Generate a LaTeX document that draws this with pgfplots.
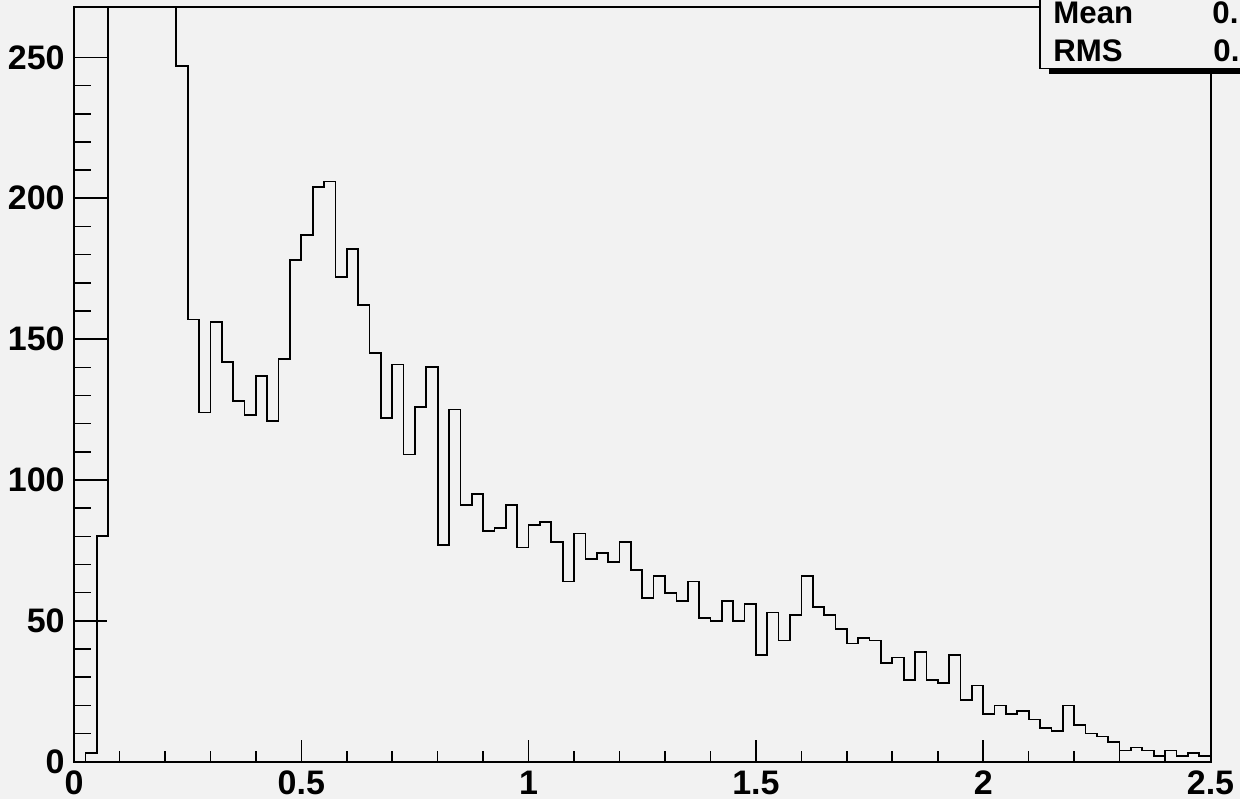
\documentclass[border=0pt]{standalone}
\usepackage{pgfplots}
\pgfplotsset{compat=1.18}
\usepackage{fontspec}
\setmainfont{Liberation Sans}
\definecolor{bg}{HTML}{F2F2F2}
\pgfplotstableread{
x y
0.000 0
0.025 3
0.050 80
0.075 420
0.100 600
0.125 700
0.150 650
0.175 520
0.200 380
0.225 247
0.250 157
0.275 124
0.300 156
0.325 142
0.350 128
0.375 123
0.400 137
0.425 121
0.450 143
0.475 178
0.500 187
0.525 204
0.550 206
0.575 172
0.600 182
0.625 162
0.650 145
0.675 122
0.700 141
0.725 109
0.750 126
0.775 140
0.800 77
0.825 125
0.850 91
0.875 95
0.900 82
0.925 83
0.950 91
0.975 76
1.000 84
1.025 85
1.050 78
1.075 64
1.100 81
1.125 72
1.150 74
1.175 71
1.200 78
1.225 68
1.250 58
1.275 66
1.300 60
1.325 57
1.350 64
1.375 51
1.400 50
1.425 57
1.450 50
1.475 56
1.500 38
1.525 53
1.550 43
1.575 52
1.600 66
1.625 55
1.650 52
1.675 47
1.700 42
1.725 44
1.750 43
1.775 35
1.800 37
1.825 29
1.850 39
1.875 29
1.900 28
1.925 38
1.950 22
1.975 27
2.000 17
2.025 20
2.050 17
2.075 18
2.100 15
2.125 12
2.150 11
2.175 20
2.200 13
2.225 10
2.250 9
2.275 7
2.300 4
2.325 5
2.350 4
2.375 2
2.400 4
2.425 2
2.450 3
2.475 2
2.500 2
}\histdata
\begin{document}
\begin{tikzpicture}
\useasboundingbox (-37pt,-18.65pt) rectangle (583pt,380.85pt);
\fill[bg] (-37pt,-18.65pt) rectangle (583pt,380.85pt);
\begin{scope}
\clip (-37pt,-18.65pt) rectangle (583pt,380.85pt);
\begin{axis}[
  scale only axis, width=568.25pt, height=377.5pt,
  at={(0pt,0pt)}, anchor=south west,
  xmin=0, xmax=2.5, ymin=0, ymax=268,
  axis line style={line width=1pt, black},
  xtick={0,0.5,1,1.5,2,2.5}, ytick={0,50,100,150,200,250},
  minor x tick num=4, minor y tick num=4,
  tick align=inside, tick pos=left,
  every tick/.style={black, line width=0.8pt},
  xtick style={/pgfplots/major tick length=11pt,/pgfplots/minor tick length=5.5pt},
  ytick style={/pgfplots/major tick length=16.5pt,/pgfplots/minor tick length=8.5pt},
  /pgf/number format/assume math mode=true,
  ticklabel style={font=\fontsize{17}{17}\selectfont\bfseries, inner sep=0pt},
  xticklabel style={yshift=-4.5pt},
  yticklabel style={xshift=-4.5pt},
  clip=true,
]
\addplot[const plot, black, line width=0.85pt] table[x=x, y=y] {\histdata};
\end{axis}
% statistics box
\fill[black] (487.5pt,343.85pt) rectangle (700pt,346.7pt);
\draw[fill=bg, line width=0.7pt] (483pt,346.7pt) rectangle (700pt,430pt);
\node[anchor=base west, inner sep=0pt, font=\fontsize{15.6}{15.6}\selectfont\bfseries] at (489.5pt,369pt) {Mean};
\node[anchor=base west, inner sep=0pt, font=\fontsize{15.6}{15.6}\selectfont\bfseries] at (489.5pt,349.85pt) {RMS};
\node[anchor=base west, inner sep=0pt, font=\fontsize{15.6}{15.6}\selectfont\bfseries] at (569pt,369pt) {0.};
\node[anchor=base west, inner sep=0pt, font=\fontsize{15.6}{15.6}\selectfont\bfseries] at (569.5pt,349.85pt) {0.};
\end{scope}
\end{tikzpicture}
\end{document}
